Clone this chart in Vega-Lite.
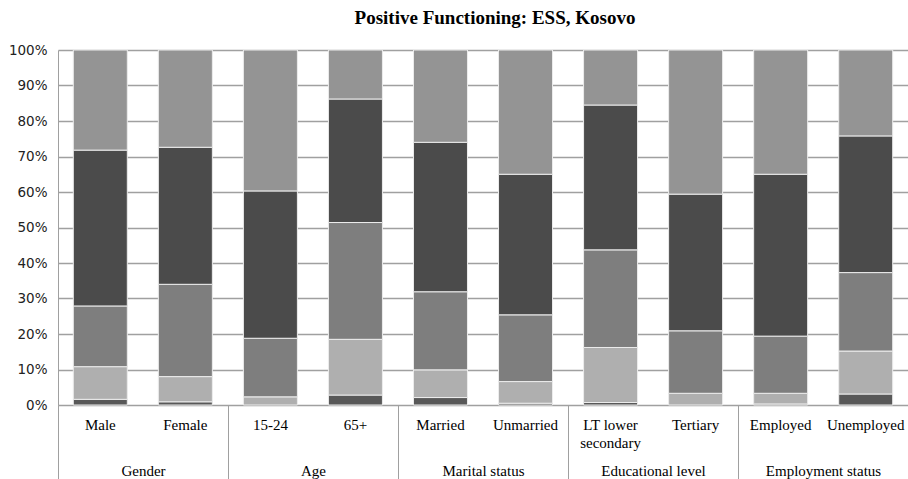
{
  "$schema": "https://vega.github.io/schema/vega-lite/v6.json",
  "width": 850,
  "height": 355,
  "autosize": {"type": "none"},
  "padding": {"left": 58, "top": 50, "right": 0, "bottom": 74},
  "background": "white",
  "title": {
    "text": "Positive Functioning: ESS, Kosovo",
    "font": "Liberation Serif",
    "fontSize": 19,
    "fontWeight": "bold",
    "color": "#000000",
    "anchor": "middle",
    "frame": "group",
    "baseline": "alphabetic",
    "offset": 0,
    "dx": 12
  },
  "config": {"view": {"stroke": null}},
  "datasets": {
    "groups": [
      {"group": "Gender"},
      {"group": "Age"},
      {"group": "Marital status"},
      {"group": "Educational level"},
      {"group": "Employment status"}
    ]
  },
  "layer": [
    {
      "data": {
        "values": [
          {"cat": "Male", "level": 1, "pct": 1.6},
          {"cat": "Male", "level": 2, "pct": 9.2},
          {"cat": "Male", "level": 3, "pct": 17.1},
          {"cat": "Male", "level": 4, "pct": 43.9},
          {"cat": "Male", "level": 5, "pct": 28.2},
          {"cat": "Female", "level": 1, "pct": 0.9},
          {"cat": "Female", "level": 2, "pct": 7.1},
          {"cat": "Female", "level": 3, "pct": 26.0},
          {"cat": "Female", "level": 4, "pct": 38.6},
          {"cat": "Female", "level": 5, "pct": 27.4},
          {"cat": "15-24", "level": 2, "pct": 2.3},
          {"cat": "15-24", "level": 3, "pct": 16.5},
          {"cat": "15-24", "level": 4, "pct": 41.5},
          {"cat": "15-24", "level": 5, "pct": 39.7},
          {"cat": "65+", "level": 1, "pct": 2.8},
          {"cat": "65+", "level": 2, "pct": 15.7},
          {"cat": "65+", "level": 3, "pct": 32.9},
          {"cat": "65+", "level": 4, "pct": 34.8},
          {"cat": "65+", "level": 5, "pct": 13.8},
          {"cat": "Married", "level": 1, "pct": 2.1},
          {"cat": "Married", "level": 2, "pct": 7.8},
          {"cat": "Married", "level": 3, "pct": 22.0},
          {"cat": "Married", "level": 4, "pct": 42.1},
          {"cat": "Married", "level": 5, "pct": 26.0},
          {"cat": "Unmarried", "level": 1, "pct": 0.5},
          {"cat": "Unmarried", "level": 2, "pct": 6.1},
          {"cat": "Unmarried", "level": 3, "pct": 18.8},
          {"cat": "Unmarried", "level": 4, "pct": 39.6},
          {"cat": "Unmarried", "level": 5, "pct": 35.0},
          {"cat": "LT lower secondary", "level": 1, "pct": 0.7},
          {"cat": "LT lower secondary", "level": 2, "pct": 15.5},
          {"cat": "LT lower secondary", "level": 3, "pct": 27.5},
          {"cat": "LT lower secondary", "level": 4, "pct": 40.8},
          {"cat": "LT lower secondary", "level": 5, "pct": 15.5},
          {"cat": "Tertiary", "level": 2, "pct": 3.3},
          {"cat": "Tertiary", "level": 3, "pct": 17.6},
          {"cat": "Tertiary", "level": 4, "pct": 38.5},
          {"cat": "Tertiary", "level": 5, "pct": 40.6},
          {"cat": "Employed", "level": 1, "pct": 0.3},
          {"cat": "Employed", "level": 2, "pct": 3.0},
          {"cat": "Employed", "level": 3, "pct": 16.1},
          {"cat": "Employed", "level": 4, "pct": 45.6},
          {"cat": "Employed", "level": 5, "pct": 35.0},
          {"cat": "Unemployed", "level": 1, "pct": 3.1},
          {"cat": "Unemployed", "level": 2, "pct": 12.1},
          {"cat": "Unemployed", "level": 3, "pct": 22.1},
          {"cat": "Unemployed", "level": 4, "pct": 38.5},
          {"cat": "Unemployed", "level": 5, "pct": 24.2}
        ]
      },
      "mark": {"type": "bar", "stroke": "#ececec", "strokeWidth": 1},
      "encoding": {
        "x": {
          "field": "cat",
          "type": "nominal",
          "sort": ["Male", "Female", "15-24", "65+", "Married", "Unmarried", "LT lower secondary", "Tertiary", "Employed", "Unemployed"],
          "scale": {"paddingInner": 0.365, "paddingOuter": 0.18},
          "axis": {
            "title": null,
            "labelAngle": 0,
            "ticks": false,
            "tickSize": 0,
            "domain": true,
            "domainColor": "#a0a0a0",
            "domainWidth": 1,
            "labelFont": "Liberation Serif",
            "labelFontSize": 15,
            "labelColor": "#000000",
            "labelBaseline": "alphabetic",
            "labelPadding": 24,
            "labelLineHeight": 18,
            "labelOverlap": false,
            "labelExpr": "datum.label == 'LT lower secondary' ? ['LT lower', 'secondary'] : datum.label"
          }
        },
        "y": {
          "field": "pct",
          "type": "quantitative",
          "stack": "normalize",
          "scale": {"domain": [0, 1]},
          "axis": {
            "title": null,
            "values": [0, 0.1, 0.2, 0.3, 0.4, 0.5, 0.6, 0.7, 0.8, 0.9, 1],
            "format": ".0%",
            "grid": true,
            "gridColor": "#a0a0a0",
            "gridWidth": 1.5,
            "ticks": false,
            "domain": true,
            "domainColor": "#a0a0a0",
            "labelFont": "DejaVu Sans",
            "labelFontSize": 13.5,
            "labelColor": "#222222",
            "labelPadding": 11
          }
        },
        "color": {
          "field": "level",
          "type": "nominal",
          "scale": {"domain": [1, 2, 3, 4, 5], "range": ["#585858", "#afafaf", "#7e7e7e", "#4b4b4b", "#949494"]},
          "legend": null
        },
        "order": {"field": "level", "type": "quantitative", "sort": "ascending"}
      }
    },
    {
      "data": {"name": "groups"},
      "mark": {"type": "rule", "opacity": 0},
      "encoding": {
        "x": {
          "field": "group",
          "type": "nominal",
          "sort": ["Gender", "Age", "Marital status", "Educational level", "Employment status"],
          "scale": {"paddingInner": 0, "paddingOuter": 0},
          "axis": {
            "orient": "bottom",
            "title": null,
            "labelAngle": 0,
            "ticks": true,
            "tickBand": "extent",
            "tickSize": 74,
            "tickColor": "#a0a0a0",
            "tickWidth": 1,
            "domain": false,
            "labelFont": "Liberation Serif",
            "labelFontSize": 15,
            "labelColor": "#000000",
            "labelBaseline": "alphabetic",
            "labelPadding": -4,
            "grid": false
          }
        }
      }
    }
  ],
  "resolve": {"scale": {"x": "independent"}, "axis": {"x": "independent"}}
}
